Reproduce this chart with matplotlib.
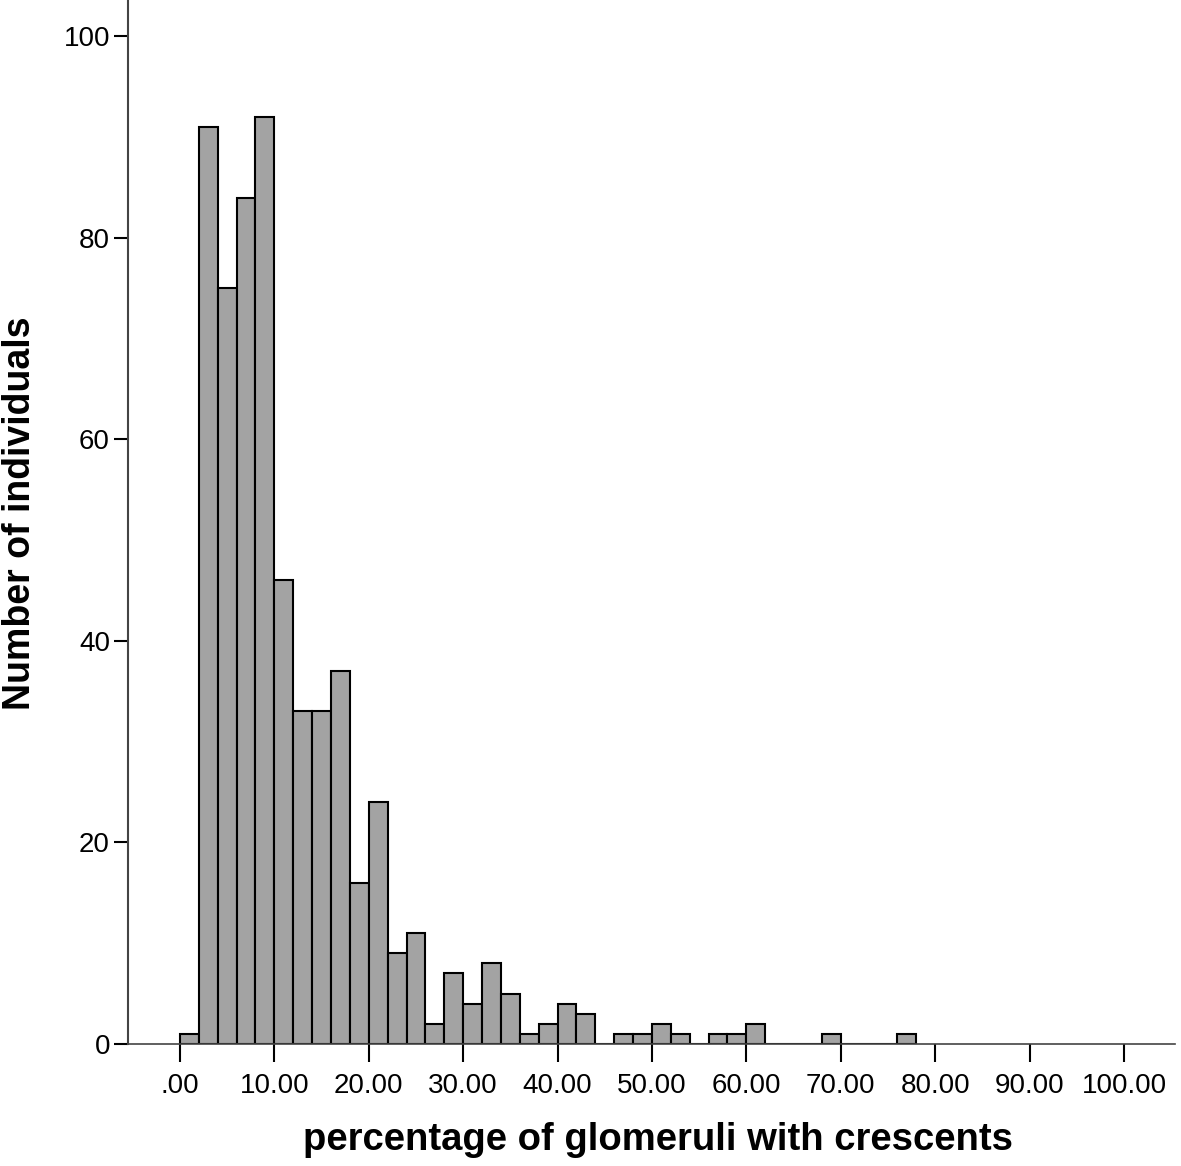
import numpy as np
import matplotlib.pyplot as plt

plt.rcParams['font.family'] = ['Liberation Sans', 'DejaVu Sans']

# histogram: bins of width 2 from 0 to 78
bin_edges = np.arange(0, 80, 2)
counts = [1, 91, 75, 84, 92, 46, 33, 33, 37, 16,
          24, 9, 11, 2, 7, 4, 8, 5, 1, 2,
          4, 3, 0, 1, 1, 2, 1, 0, 1, 1,
          2, 0, 0, 0, 1, 0, 0, 0, 1]
x_ticks = np.arange(0, 101, 10)
x_ticklabels = ['.00'] + ['%.2f' % t for t in x_ticks[1:]]
y_ticks = [0, 20, 40, 60, 80, 100]

W, H = 1181, 1166
fig = plt.figure(figsize=(W / 100, H / 100), dpi=100)
ax = fig.add_axes([128 / W, 1 - 1044 / H, (1175 - 128) / W, 1044 / H])

ax.bar(bin_edges[:-1], counts, width=2, align='edge',
       color='#a3a3a3', edgecolor='black', linewidth=1.5)

ax.set_xlim(-5.5, 105.4)
ax.set_ylim(0, 103.6)
ax.set_xticks(x_ticks)
ax.set_xticklabels(x_ticklabels)
ax.set_yticks(y_ticks)

for s in ['top', 'right']:
    ax.spines[s].set_visible(False)
ax.spines['left'].set_linewidth(1.5)
ax.spines['left'].set_color('#444444')
ax.spines['bottom'].set_linewidth(1.2)
ax.spines['bottom'].set_color('#444444')

ax.tick_params(axis='x', length=13, width=1.5, labelsize=20, pad=8)
ax.tick_params(axis='y', length=10, width=1.5, labelsize=20, pad=3)

# axis titles placed like the original
fig.text(658 / W, 1 - 1140 / H, 'percentage of glomeruli with crescents',
         fontsize=27.5, fontweight='bold', ha='center', va='center')
fig.text(20 / W, 1 - 513 / H, 'Number of individuals', rotation=90,
         fontsize=27, fontweight='bold', ha='center', va='center')

fig.savefig('out.png', dpi=100)
